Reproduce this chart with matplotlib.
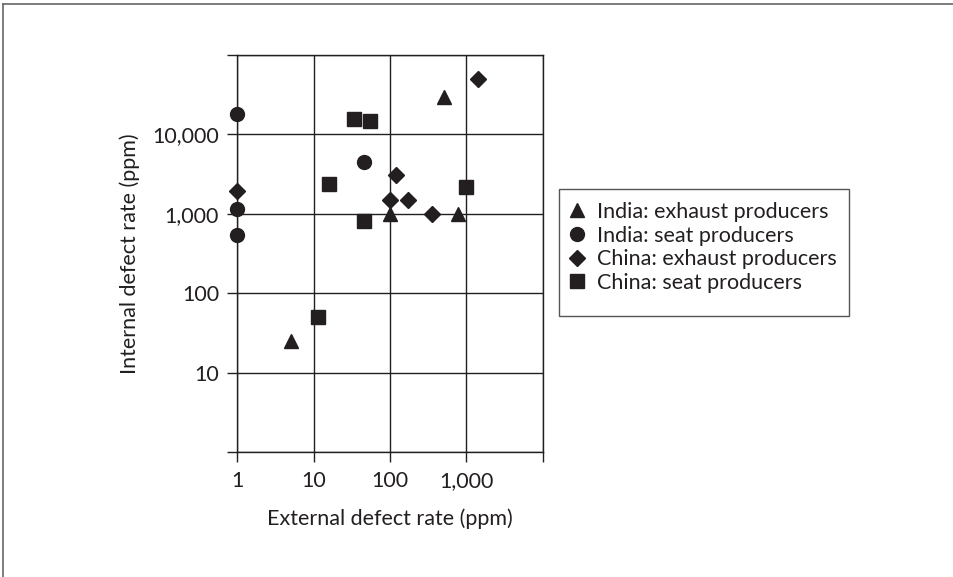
import matplotlib
matplotlib.use("Agg")
import matplotlib.pyplot as plt
from matplotlib.lines import Line2D
from matplotlib.patches import Rectangle

plt.rcParams['font.family'] = ['Lato', 'DejaVu Sans']

# data (ppm)
india_exhaust_x = [5, 100, 780, 510]
india_exhaust_y = [25, 1000, 1000, 29000]
india_seat_x = [1, 1, 1, 45]
india_seat_y = [18000, 1150, 540, 4500]
china_exhaust_x = [1, 100, 170, 120, 350, 1400]
china_exhaust_y = [1950, 1500, 1500, 3100, 1000, 50000]
china_seat_x = [11.5, 16, 34, 54, 45, 980]
china_seat_y = [50, 2400, 15700, 14800, 810, 2200]

x_ticks = [1, 10, 100, 1000, 10000]
x_labels = ['1', '10', '100', '1,000', '']
y_ticks = [1, 10, 100, 1000, 10000, 100000]
y_labels = ['', '10', '100', '1,000', '10,000', '']

ink = '#231f20'
fs = 15.5

fig = plt.figure(figsize=(9.54, 5.77), dpi=100)
ax = fig.add_axes([237.5 / 954, 1 - 452.3 / 577, 305.2 / 954, 397.6 / 577])

ax.set_xscale('log')
ax.set_yscale('log')
ax.set_xlim(1, 10000)
ax.set_ylim(1, 100000)

ax.plot(india_exhaust_x, india_exhaust_y, '^', color=ink, markersize=10.5,
        label='India: exhaust producers', clip_on=False)
ax.plot(india_seat_x, india_seat_y, 'o', color=ink, markersize=10,
        label='India: seat producers', clip_on=False)
ax.plot(china_exhaust_x, china_exhaust_y, 'D', color=ink, markersize=8.6,
        label='China: exhaust producers', clip_on=False)
ax.plot(china_seat_x, china_seat_y, 's', color=ink, markersize=9.4,
        label='China: seat producers', clip_on=False)

ax.set_xticks(x_ticks)
ax.set_xticklabels(x_labels)
ax.set_yticks(y_ticks)
ax.set_yticklabels(y_labels)
ax.minorticks_off()
ax.tick_params(direction='out', length=7.2, width=1, color=ink,
               labelsize=fs, labelcolor=ink, pad=6)
ax.grid(True, color=ink, linewidth=1)
ax.set_axisbelow(True)
for s in ax.spines.values():
    s.set_color(ink)
    s.set_linewidth(1)

ax.set_xlabel('External defect rate (ppm)', fontsize=fs, color=ink, labelpad=13)
ax.set_ylabel('Internal defect rate (ppm)', fontsize=fs, color=ink, labelpad=9)

# legend box drawn separately, legend itself without frame
fig.add_artist(Rectangle((559 / 954, 1 - 315.7 / 577), 290 / 954, 126.4 / 577,
                         transform=fig.transFigure, facecolor='none',
                         edgecolor='#555555', linewidth=1))
leg = ax.legend(loc='upper left', bbox_to_anchor=(570 / 954, 1 - 202 / 577),
                bbox_transform=fig.transFigure, fontsize=fs, frameon=False,
                handlelength=0.65, handletextpad=0.6, labelspacing=0.17,
                borderpad=0, borderaxespad=0)
for t in leg.get_texts():
    t.set_color(ink)

# outer frame (top and left edges visible)
fig.add_artist(Line2D([3.5 / 954, 1], [1 - 3.5 / 577, 1 - 3.5 / 577],
                      transform=fig.transFigure, color='#666666', linewidth=1.2))
fig.add_artist(Line2D([3.5 / 954, 3.5 / 954], [0, 1 - 3.5 / 577],
                      transform=fig.transFigure, color='#666666', linewidth=1.2))

fig.savefig('out.png', dpi=100)
